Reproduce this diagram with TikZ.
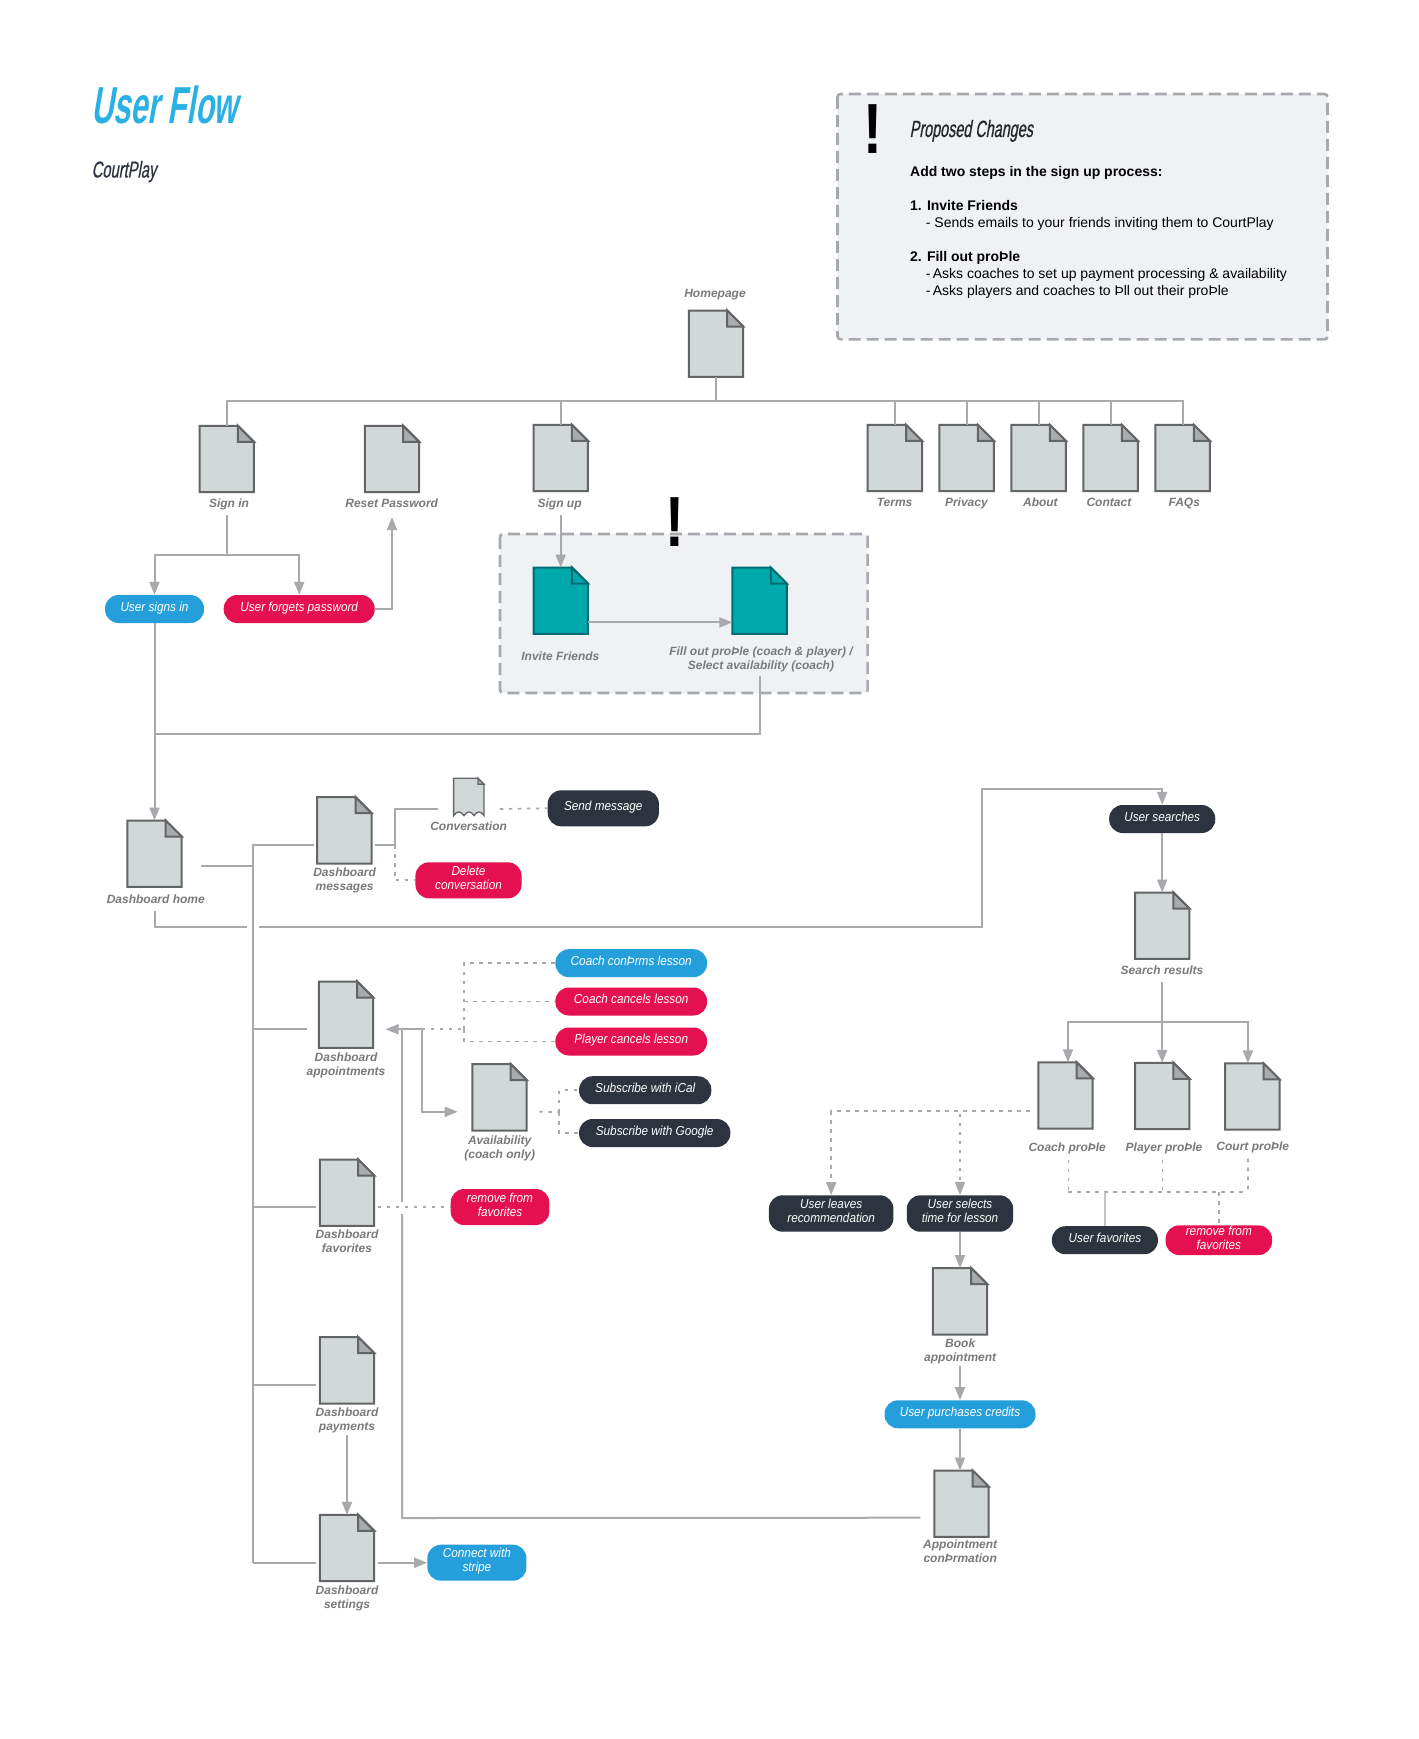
\documentclass[tikz,border=0pt]{standalone}
\usepackage{fontspec}
\setmainfont{Liberation Sans}
\newfontfamily\titlefam[FakeStretch=0.59,FakeSlant=0.17]{Liberation Sans Bold}
\newfontfamily\subfam[FakeStretch=0.64,FakeSlant=0.17,FakeBold=0.6]{Liberation Sans}
\newfontfamily\propfam[FakeStretch=0.612,FakeSlant=0.17,FakeBold=0.6]{Liberation Sans}
\newfontfamily\pillfam[FakeStretch=0.905]{Liberation Sans}
\newfontfamily\bangfam[FakeStretch=0.8]{Liberation Sans Bold}
\usetikzlibrary{arrows.meta,calc}
\definecolor{linegray}{HTML}{A7A9AC}
\definecolor{docedge}{HTML}{636466}
\definecolor{docfill}{HTML}{D2D7D7}
\definecolor{foldfill}{HTML}{A9ACAE}
\definecolor{boxfill}{HTML}{EEF2F5}
\definecolor{labelgray}{HTML}{7A7A7A}
\definecolor{titleblue}{HTML}{2BB0E4}
\definecolor{pillblue}{HTML}{259FDB}
\definecolor{pillred}{HTML}{E5104F}
\definecolor{pilldark}{HTML}{2D3440}
\definecolor{tealfill}{HTML}{00A9AC}
\definecolor{tealedge}{HTML}{006B70}
\newcommand{\stk}[1]{\begin{tabular}{@{}c@{}}#1\end{tabular}}
\newcommand{\pilltxt}[1]{\raisebox{0pt}[\height][\dimexpr\depth+1.6pt\relax]{\stk{#1}}}
\tikzset{
  docbox/.style={rectangle,inner sep=0pt,minimum width=54pt,minimum height=66pt},
  docface/.style={fill=docfill,draw=docedge,line width=2pt,line join=miter},
  foldface/.style={fill=foldfill,draw=docedge,line width=2pt,line join=miter},
  tealdoc/.style={fill=tealfill,draw=tealedge},
  lbl/.style={inner sep=0pt,text=labelgray,font=\fontsize{12}{14}\selectfont\bfseries\itshape},
  pillbase/.style={rectangle,rounded corners=13.5pt,inner sep=0pt,text=white,font=\pillfam\fontsize{13}{14}\selectfont\itshape},
  conn/.style={draw=linegray,line width=2pt},
  thinconn/.style={draw=linegray!70,line width=1.3pt},
  arr/.style={conn,-{Triangle[length=13pt,width=10pt,fill=linegray]}},
  dot/.style={draw=linegray,line width=1.7pt,dash pattern=on 3.5pt off 5.5pt},
  dotarr/.style={dot,-{Triangle[length=13pt,width=10pt,fill=linegray]}},
  changebox/.style={fill=boxfill,rounded corners=3pt},
  changeedge/.style={draw=linegray,line width=2.6pt,rounded corners=3pt,dash pattern=on 12pt off 6pt},
  bang/.style={inner sep=0pt,anchor=base,font=\bangfam\fontsize{71}{71}\selectfont,text=black},
}
\newcommand{\docnode}[4][]{%
  \node[docbox] (#2) at (#3+27,#4+33) {};
  \filldraw[docface,#1] (#2.north west) -- ($(#2.north east)+(-16,0)$) -- ($(#2.north east)+(0,16)$) -- (#2.south east) -- (#2.south west) -- cycle;
  \filldraw[foldface,#1] ($(#2.north east)+(-16,0)$) -- ($(#2.north east)+(0,16)$) -- ($(#2.north east)+(-16,16)$) -- cycle;}
% name, colour, cx, cy, width, height, text
\newcommand{\pillnode}[7]{%
  \node[pillbase,fill=#2,minimum width=#5pt,minimum height=#6pt] (#1) at (#3,#4) {\pilltxt{#7}};}
\newcommand{\labelnode}[4]{\node[lbl] (#1) at (#2,#3+1.7) {\stk{#4}};}
\begin{document}
\begin{tikzpicture}[x=1pt,y=-1pt]
\useasboundingbox (0,0) rectangle (1418,1739);
\fill[white] (0,0) rectangle (1418,1739);
% titles
\node[inner sep=0pt,anchor=base west,text=titleblue,font=\titlefam\fontsize{52}{52}\selectfont] (title) at (91,124) {User Flow};
\node[inner sep=0pt,anchor=base west,text=pilldark,font=\subfam\fontsize{23}{23}\selectfont] (subtitle) at (91.5,177.5) {CourtPlay};
% proposed-changes panel
\path[changebox] (837.5,94) rectangle (1327.5,339.3);
\node[bang] (bang1) at (872.5,154) {!};
\path[changeedge] (837.5,94) rectangle (1327.5,339.3);
\node[inner sep=0pt,anchor=base west,text=black!85,font=\propfam\fontsize{23.5}{23.5}\selectfont] (proposed) at (909.5,137) {Proposed Changes};
\node[inner sep=0pt,anchor=north west,font=\fontsize{13.97}{17}\selectfont] (changes) at (910,164.5) {\begin{tabular}{@{}l@{}}
\textbf{Add two steps in the sign up process:}\\
\\
\textbf{1. Invite Friends}\\
\hspace*{15.7pt}- Sends emails to your friends inviting them to CourtPlay\\
\\
\textbf{2. Fill out proÞle}\\
\hspace*{15.7pt}-\,Asks coaches to set up payment processing \& availability\\
\hspace*{15.7pt}-\,Asks players and coaches to Þll out their proÞle
\end{tabular}};
% sign-up panel
\path[changebox] (500,534) rectangle (867.6,693);
\node[bang] (bang2) at (675,546) {!};
\path[changeedge] (500,534) rectangle (867.6,693);
% documents
\docnode{home}{689}{310.7}
\docnode{signin}{199.7}{426}
\docnode{reset}{365}{426}
\docnode{signup}{533.7}{425}
\docnode{terms}{867.9}{425}
\docnode{privacy}{939.6}{425}
\docnode{about}{1011.6}{425}
\docnode{contact}{1083.6}{425}
\docnode{faqs}{1155.6}{425}
\docnode[tealdoc]{invite}{533.7}{567.7}
\docnode[tealdoc]{fillout}{732.6}{567.7}
\docnode{dashhome}{127.5}{820.7}
\docnode{dashmsg}{317.3}{797.3}
\docnode{dashappt}{319}{981.7}
\docnode{avail}{472.5}{1064.3}
\docnode{dashfav}{320}{1159.7}
\docnode{dashpay}{320}{1337.3}
\docnode{dashset}{320}{1515}
\docnode{search}{1135.2}{892.7}
\docnode{coach}{1038.5}{1062.5}
\docnode{player}{1135.2}{1063}
\docnode{court}{1225.3}{1063.5}
\docnode{book}{933}{1268.3}
\docnode{apptconf}{934.5}{1470.7}
% conversation sheet
\node[rectangle,inner sep=0pt,minimum width=30pt,minimum height=37pt] (conv) at (468.8,797) {};
\filldraw[fill=docfill,draw=docedge,line width=1.3pt] (conv.north west) -- ($(conv.north east)+(-6,0)$) -- ($(conv.north east)+(0,6)$) -- (conv.south east) .. controls +(-3,-5) and +(3,-5) .. ++(-10,0) .. controls +(-3,-5) and +(3,-5) .. ++(-10,0) .. controls +(-3,-5) and +(3,-5) .. (conv.south west) -- cycle;
\filldraw[fill=foldfill,draw=docedge,line width=1.3pt] ($(conv.north east)+(-6,0)$) -- ($(conv.north east)+(0,6)$) -- ($(conv.north east)+(-6,6)$) -- cycle;
% document labels
\labelnode{homeL}{715}{292.7}{Homepage}
\labelnode{signinL}{229}{502.7}{Sign in}
\labelnode{resetL}{391.7}{502.7}{Reset Password}
\labelnode{signupL}{559.6}{502.7}{Sign up}
\labelnode{termsL}{894.6}{501.7}{Terms}
\labelnode{privacyL}{966.4}{501.7}{Privacy}
\labelnode{aboutL}{1040.4}{501.7}{About}
\labelnode{contactL}{1108.9}{501.7}{Contact}
\labelnode{faqsL}{1184.3}{501.7}{FAQs}
\labelnode{inviteL}{560.4}{655.7}{Invite Friends}
\labelnode{filloutL}{761}{657.7}{Fill out proÞle (coach \& player) /\\Select availability (coach)}
\labelnode{dashhomeL}{155.8}{898.7}{Dashboard home}
\labelnode{dashmsgL}{344.6}{878.8}{Dashboard\\messages}
\labelnode{convL}{468.6}{826}{Conversation}
\labelnode{dashapptL}{346}{1063.7}{Dashboard\\appointments}
\labelnode{availL}{499.7}{1146.7}{Availability\\(coach only)}
\labelnode{dashfavL}{347}{1240.7}{Dashboard\\favorites}
\labelnode{dashpayL}{347}{1418.8}{Dashboard\\payments}
\labelnode{dashsetL}{347}{1596.8}{Dashboard\\settings}
\labelnode{searchL}{1162}{969.7}{Search results}
\labelnode{coachL}{1067.2}{1146.7}{Coach proÞle}
\labelnode{playerL}{1164}{1146.7}{Player proÞle}
\labelnode{courtL}{1252.8}{1145.7}{Court proÞle}
\labelnode{bookL}{960.2}{1349.7}{Book\\appointment}
\labelnode{apptconfL}{960.2}{1551}{Appointment\\conÞrmation}
% pills
\pillnode{psignsin}{pillblue}{154.5}{609}{99}{28}{User signs in}
\pillnode{pforgets}{pillred}{299.2}{609}{151}{28}{User forgets password}
\pillnode{psend}{pilldark}{603.3}{808.3}{111.2}{36}{Send message}
\pillnode{pdelete}{pillred}{468.5}{880.3}{106.1}{36}{Delete\\conversation}
\pillnode{pconfirm}{pillblue}{631.2}{963.2}{151.7}{28}{Coach conÞrms lesson}
\pillnode{pcancelc}{pillred}{631.2}{1001.5}{151.7}{28}{Coach cancels lesson}
\pillnode{pcancelp}{pillred}{631.2}{1041.5}{151.7}{28}{Player cancels lesson}
\pillnode{pical}{pilldark}{645.2}{1090.2}{132.3}{28}{Subscribe with iCal}
\pillnode{pgoogle}{pilldark}{654.7}{1133}{151.3}{28}{Subscribe with Google}
\pillnode{premove}{pillred}{500}{1207}{98.6}{36}{remove from\\favorites}
\pillnode{pstripe}{pillblue}{476.9}{1562.7}{99.1}{36}{Connect with\\stripe}
\pillnode{psearches}{pilldark}{1162.2}{819}{106.1}{28}{User searches}
\pillnode{pleaves}{pilldark}{831.2}{1213.5}{124.5}{36.4}{User leaves\\recommendation}
\pillnode{pselects}{pilldark}{960}{1213.5}{106.4}{36.4}{User selects\\time for lesson}
\pillnode{pfav}{pilldark}{1104.9}{1240.2}{106}{28}{User favorites}
\pillnode{premoveb}{pillred}{1218.8}{1240.2}{106.4}{28}{remove from\\favorites}
\pillnode{ppurchase}{pillblue}{960}{1414.3}{151}{28}{User purchases credits}
% named free ends
\coordinate (trunk) at (716,400.5);
\coordinate (sj) at (226.7,555);
\coordinate (mj) at (154.5,734.3);
\coordinate (tr) at (252.8,866);
\coordinate (dh) at (200.7,866);
\coordinate (trbot) at (252.8,1562.7);
\coordinate (mj2) at (395,845);
\coordinate (g1) at (247,927);
\coordinate (g2) at (258.9,927);
\coordinate (c1) at (981.9,789.3);
\coordinate (srj) at (1162.2,1021.7);
\coordinate (dc) at (1068.4,1192.3);
\coordinate (dp) at (1162.5,1192.3);
\coordinate (de) at (1247.9,1192.3);
\coordinate (g3) at (402,1213);
\coordinate (g4) at (402,1201.7);
\coordinate (aj) at (421.7,1029.3);
\coordinate (vj) at (464.3,1029.3);
\coordinate (vk) at (559.3,1112);
% homepage tree
\draw[conn] (home.south) -- (trunk);
\draw[conn] (signin.north) -- (signin.north |- trunk) -- (faqs.north |- trunk) -- (faqs.north);
\foreach \n in {signup,terms,privacy,about,contact}{\draw[conn] (\n.north) -- (\n.north |- trunk);}
% sign in
\draw[conn,shorten <=3.5pt] (signin.south |- signinL.south) -- (sj);
\draw[arr] (sj) -| (psignsin.north);
\draw[arr] (sj) -| (pforgets.north);
\draw[arr,shorten >=5.5pt] (pforgets.east) -| (reset.south |- resetL.south);
% sign up
\draw[arr,shorten <=3.5pt] (signup.south |- signupL.south) -- (invite.north);
\draw[arr] ($(invite.east)+(0,21.7)$) -- ($(fillout.west)+(0,21.7)$);
\draw[conn,shorten <=2.5pt] (fillout.south |- filloutL.south) |- (mj);
\draw[arr] (psignsin.south) -- (dashhome.north);
% dashboard trunk
\draw[conn] (dh) -- (tr);
\draw[conn] ($(dashmsg.west)+(-3.5,14.5)$) -| (trbot);
\draw[conn] ($(dashappt.west)+(-12.3,14.6)$) -| (trbot);
\draw[conn] ($(dashfav.west)+(-4,14.3)$) -| (trbot);
\draw[conn] ($(dashpay.west)+(-3.6,14.7)$) -| (trbot);
\draw[conn] ($(dashset.west)+(-3.6,14.7)$) -| (trbot);
% messages
\draw[conn] ($(dashmsg.east)+(3.1,14.7)$) -- (mj2) |- ($(conv.west)+(-15.3,12)$);
\draw[dot] ($(conv.east)+(15.8,12)$) -- (psend.west);
\draw[dot] (mj2) |- (pdelete.west);
% appointments
\draw[conn,shorten <=1pt] (g3) -- (402,1518) -- ($(apptconf.west)+(-13.9,14)$);
\draw[arr] (g4) |- ($(dashappt.east)+(12.4,14.6)$);
\draw[arr] (402,1029.3) -- (aj) |- ($(avail.west)+(-14.6,14.5)$);
\draw[dot] (aj) -- (vj);
\draw[dot] (vj) |- (pconfirm.west);
\draw[dot] (vj) |- (pcancelp.west);
\draw[dot] (pcancelc.west -| vj) -- (pcancelc.west);
\draw[dot] ($(avail.east)+(12.6,14.5)$) -- (vk);
\draw[dot] (vk) |- (pical.west);
\draw[dot] (vk) |- (pgoogle.west);
\draw[dot] ($(dashfav.east)+(3.3,14.3)$) -- (premove.west);
% payments and settings
\draw[arr] (dashpay.south |- dashpayL.south) -- (dashset.north);
\draw[arr] ($(dashset.east)+(3.5,14.7)$) -- (pstripe.west);
% search
\draw[conn,shorten <=3.5pt] (dashhome.south |- dashhomeL.south) |- (g1);
\draw[arr] (g2) -| (c1) -| (psearches.north);
\draw[arr] (psearches.south) -- (search.north);
\draw[arr,shorten <=3.5pt] (search.south |- searchL.south) -- (player.north);
\draw[arr] (srj) -| ($(coach.north)+(2.5,0)$);
\draw[arr] (srj) -| ($(court.north)+(-4.4,0)$);
\draw[dot,shorten <=4pt] ($(coachL.south)+(1.2,0)$) -- (dc);
\draw[dot,shorten <=4pt] ($(playerL.south)+(-1.5,0)$) -- (dp);
\draw[dot,shorten <=4pt] ($(courtL.south)+(-4.9,0)$) -- (de);
\draw[dot] (dc) -- (de);
\draw[thinconn] (pfav.north) -- (pfav.north |- dc);
\draw[dot] (pfav.north |- dc) -- (premoveb.north |- dc);
\draw[dot] (premoveb.north |- dc) -- (premoveb.north);
% booking
\draw[dotarr] ($(coach.west)+(-8.8,15.8)$) -| (pleaves.north);
\draw[dotarr] ($(coach.west)+(-8.8,15.8)$) -| (pselects.north);
\draw[arr] (pselects.south) -- (book.north);
\draw[arr] (book.south |- bookL.south) -- (ppurchase.north);
\draw[arr] (ppurchase.south) -- (ppurchase.south |- apptconf.north);
\end{tikzpicture}
\end{document}
